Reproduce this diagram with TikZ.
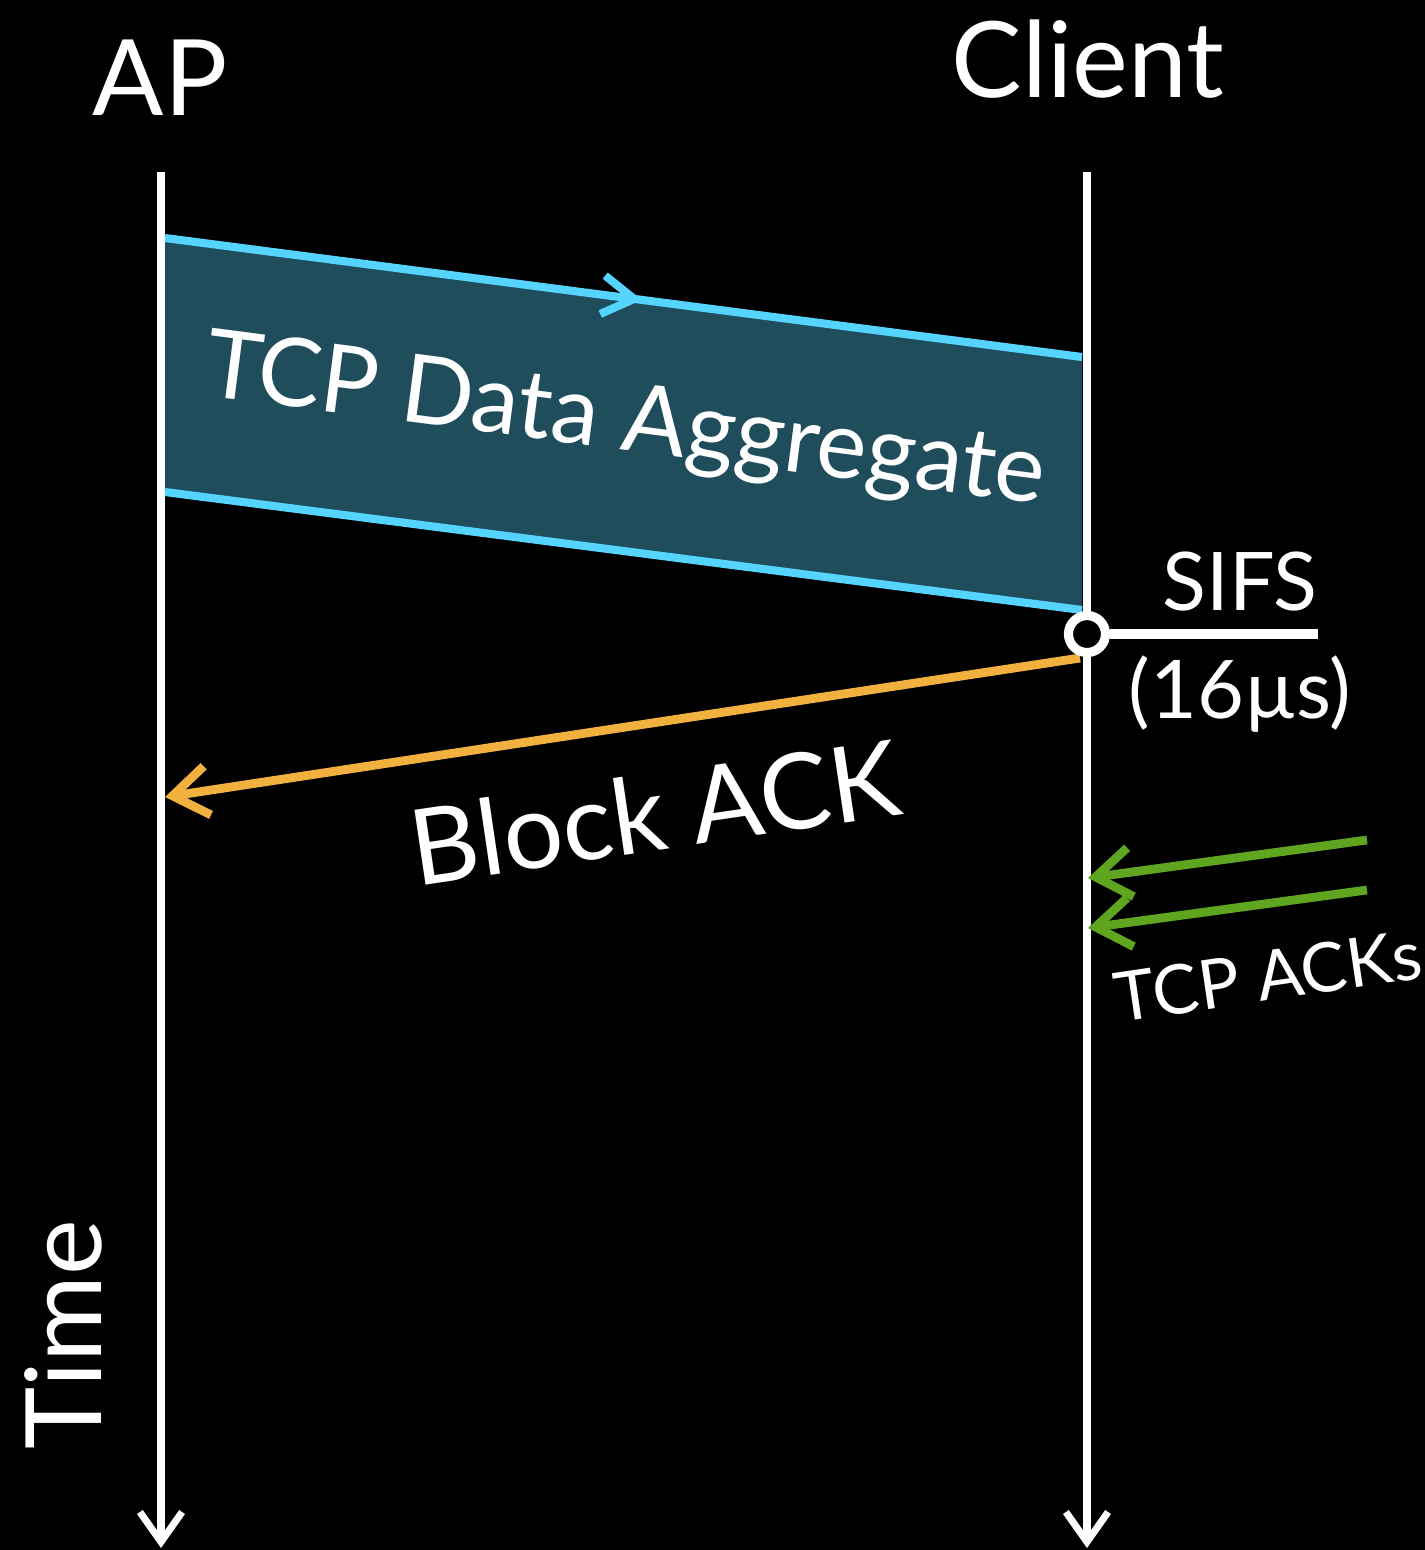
\documentclass[tikz,border=0pt]{standalone}
\usepackage{fontspec}
\setmainfont{Lato}
\usetikzlibrary{arrows.meta,decorations.markings}
\definecolor{linkcyan}{RGB}{85,212,255}
\definecolor{aggteal}{RGB}{31,77,91}
\definecolor{ackorange}{RGB}{242,177,62}
\definecolor{tcpgreen}{RGB}{95,165,31}
\tikzset{
  >={Straight Barb[length=10pt,width=14pt]},
  timeline/.style={draw=white, line width=2pt, -{Straight Barb[length=8.5pt,width=12pt]}},
  dataedge/.style={draw=linkcyan, line width=2.3pt},
  midtip/.style={postaction={decorate},
    decoration={markings, mark=at position 0.52 with {\arrow{Straight Barb[length=9pt,width=11pt]}}}},
  blockack/.style={draw=ackorange, line width=2.5pt, ->},
  tcpack/.style={draw=tcpgreen, line width=2.5pt, ->},
  sifsdot/.style={circle, draw=white, fill=black, line width=2.6pt, minimum size=0.37cm, inner sep=0pt},
  sifsbar/.style={draw=white, line width=2.7pt},
  bigtext/.style={text=white, font=\fontsize{30}{34}\selectfont, inner sep=0pt},
  msgtext/.style={text=white, font=\fontsize{27}{31}\selectfont, inner sep=0pt},
  smalltext/.style={text=white, font=\fontsize{23}{27}\selectfont, inner sep=0pt},
  tinytext/.style={text=white, font=\fontsize{19.5}{23}\selectfont, inner sep=0pt}
}
\begin{document}
\begin{tikzpicture}[x=0.01cm, y=-0.01cm]
  \fill[black] (0,0) rectangle (1425,1550);
  \useasboundingbox (0,0) rectangle (1425,1550);

  % end points of the two timelines
  \coordinate (apTop) at (161,172);
  \coordinate (apEnd) at (161,1548);
  \coordinate (clTop) at (1087,172);
  \coordinate (clEnd) at (1087,1548);

  % aggregate frame corners
  \coordinate (aggTL) at (165,238);
  \coordinate (aggTR) at (1082,357);
  \coordinate (aggBR) at (1082,610);
  \coordinate (aggBL) at (165,492);

  \fill[aggteal] (aggTL) -- (aggTR) -- (aggBR) -- (aggBL) -- cycle;
  \draw[dataedge, midtip] (aggTL) -- (aggTR);
  \draw[dataedge] (aggBL) -- (aggBR);

  \draw[timeline] (apTop) -- (apEnd);
  \draw[timeline] (clTop) -- (clEnd);

  \node[bigtext, anchor=base] (apLabel) at (160,115) {AP};
  \node[bigtext, anchor=base] (clLabel) at (1088,97) {Client};
  \node[msgtext, rotate=-7.4] (aggLabel) at (625,424) {TCP Data Aggregate};

  % block ack back to the AP
  \coordinate (ackStart) at (1080,658);
  \coordinate (ackEnd) at (165,797);
  \draw[blockack] (ackStart) -- (ackEnd);
  \node[bigtext, rotate=8.4] (ackLabel) at (655,812) {Block ACK};

  % SIFS gap
  \node[sifsdot] (sifs) at (1087,634) {};
  \coordinate (sifsEnd) at (1318,634);
  \draw[sifsbar] (sifs.east) -- (sifsEnd);
  \node[smalltext, anchor=base] (sifsLabel) at (1240,610) {SIFS};
  \node[smalltext] (sifsTime) at (1240,694) {(16µs)};

  % TCP acks arriving at the client
  \coordinate (tcpA) at (1367,840);
  \coordinate (tcpAEnd) at (1088,878);
  \coordinate (tcpB) at (1367,890);
  \coordinate (tcpBEnd) at (1088,928);
  \draw[tcpack] (tcpA) -- (tcpAEnd);
  \draw[tcpack] (tcpB) -- (tcpBEnd);
  \node[tinytext, rotate=8.4] (tcpLabel) at (1268,976) {TCP ACKs};

  \node[bigtext, rotate=90] (timeLabel) at (63,1335) {Time};
\end{tikzpicture}
\end{document}
